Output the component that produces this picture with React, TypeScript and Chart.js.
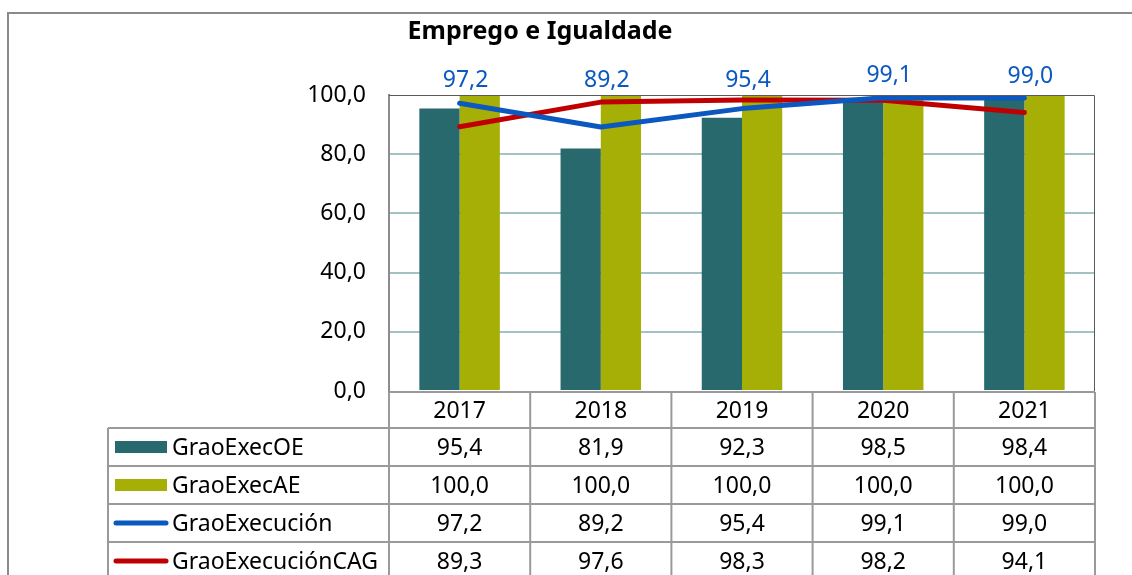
import { useEffect, useRef } from 'react';
import { Chart, registerables } from 'chart.js';

Chart.register(...registerables);

const chartTitle = 'Emprego e Igualdade';
const categories = ['2017', '2018', '2019', '2020', '2021'];
const seriesNames = ['GraoExecOE', 'GraoExecAE', 'GraoExecución', 'GraoExecuciónCAG'];
const graoExecOE = [95.4, 81.9, 92.3, 98.5, 98.4];
const graoExecAE = [100.0, 100.0, 100.0, 100.0, 100.0];
const graoExecucion = [97.2, 89.2, 95.4, 99.1, 99.0];
const graoExecucionCAG = [89.3, 97.6, 98.3, 98.2, 94.1];
const yMin = 0;
const yMax = 100;
const yStep = 20;

const TEAL = '#28696d';
const OLIVE = '#a5af05';
const BLUE = '#0a58c0';
const RED = '#c00000';
const FONT = '"Noto Sans", "Open Sans", sans-serif';
const FS = 23;

const fmt = (v: number) => v.toFixed(1).replace('.', ',');

const seriesValues = [graoExecOE, graoExecAE, graoExecucion, graoExecucionCAG];
const seriesColors = [TEAL, OLIVE, BLUE, RED];
const seriesKinds = ['bar', 'bar', 'line', 'line'];

const framePlugin = {
  id: 'frame',
  beforeDraw(chart: any) {
    const ctx = chart.ctx;
    ctx.save();
    ctx.fillStyle = '#ffffff';
    ctx.fillRect(0, 0, chart.width, chart.height);
    ctx.strokeStyle = '#8a8a8a';
    ctx.lineWidth = 2;
    ctx.beginPath();
    ctx.moveTo(8, chart.height);
    ctx.lineTo(8, 13);
    ctx.lineTo(chart.width, 13);
    ctx.stroke();
    // title
    ctx.fillStyle = '#000';
    ctx.font = `bold 25px ${FONT}`;
    ctx.textAlign = 'center';
    ctx.textBaseline = 'middle';
    ctx.fillText(chartTitle, 540, 32);
    ctx.restore();
  },
  afterDatasetsDraw(chart: any) {
    const ctx = chart.ctx;
    const area = chart.chartArea;
    const xs = chart.scales.x;
    ctx.save();
    // top & right plot border
    ctx.strokeStyle = '#5a5a5a';
    ctx.lineWidth = 1;
    ctx.beginPath();
    ctx.moveTo(area.left, area.top + 0.5);
    ctx.lineTo(area.right - 0.5, area.top + 0.5);
    ctx.lineTo(area.right - 0.5, area.bottom);
    ctx.stroke();

    // data labels for GraoExecución, placed above the plot area
    const meta = chart.getDatasetMeta(2);
    ctx.fillStyle = BLUE;
    ctx.font = `${FS}px ${FONT}`;
    ctx.textAlign = 'center';
    ctx.textBaseline = 'middle';
    meta.data.forEach((pt: any, i: number) => {
      const y = Math.min(pt.y - 22, area.top - 15);
      ctx.fillText(fmt(graoExecucion[i]), pt.x + 6, y);
    });

    // data table
    const step = xs.getPixelForValue(1) - xs.getPixelForValue(0);
    const headTop = area.bottom + 1;
    const headH = 36;
    const rowH = 38;
    const tableLeft = 108;
    const bottom = chart.height + 2;
    ctx.strokeStyle = '#9a9a9a';
    ctx.lineWidth = 2;
    ctx.beginPath();
    ctx.moveTo(area.left, headTop);
    ctx.lineTo(area.right, headTop);
    for (let r = 0; r < seriesNames.length; r++) {
      const y = headTop + headH + r * rowH;
      ctx.moveTo(tableLeft, y);
      ctx.lineTo(area.right, y);
    }
    ctx.moveTo(tableLeft, headTop + headH);
    ctx.lineTo(tableLeft, bottom);
    for (let i = 0; i <= categories.length; i++) {
      const x = xs.getPixelForValue(0) - step / 2 + i * step;
      ctx.moveTo(x, headTop);
      ctx.lineTo(x, bottom);
    }
    ctx.stroke();

    ctx.fillStyle = '#000';
    ctx.font = `${FS}px ${FONT}`;
    ctx.textBaseline = 'middle';
    ctx.textAlign = 'center';
    categories.forEach((c, i) => {
      ctx.fillText(c, xs.getPixelForValue(i), headTop + headH / 2 + 1);
    });
    seriesNames.forEach((name, r) => {
      const cy = headTop + headH + r * rowH + rowH / 2;
      ctx.textAlign = 'center';
      ctx.fillStyle = '#000';
      seriesValues[r].forEach((v, i) => {
        ctx.fillText(fmt(v), xs.getPixelForValue(i), cy + 1);
      });
      if (seriesKinds[r] === 'bar') {
        ctx.fillStyle = seriesColors[r];
        ctx.fillRect(115, cy - 6, 52, 12);
      } else {
        ctx.strokeStyle = seriesColors[r];
        ctx.lineWidth = 5;
        ctx.lineCap = 'round';
        ctx.beginPath();
        ctx.moveTo(116, cy);
        ctx.lineTo(166, cy);
        ctx.stroke();
      }
      ctx.fillStyle = '#000';
      ctx.textAlign = 'left';
      ctx.fillText(name, 172, cy + 1);
    });
    ctx.restore();
  },
};

export default function App() {
  const ref = useRef<HTMLCanvasElement>(null);
  useEffect(() => {
    document.body.style.margin = '0';
    document.body.style.overflow = 'hidden';
    const chart = new Chart(ref.current as HTMLCanvasElement, {
      type: 'bar',
      data: {
        labels: categories,
        datasets: [
          {
            type: 'bar',
            label: seriesNames[0],
            data: graoExecOE,
            backgroundColor: TEAL,
            borderWidth: 0,
            categoryPercentage: 0.57,
            barPercentage: 1,
            order: 2,
          },
          {
            type: 'bar',
            label: seriesNames[1],
            data: graoExecAE,
            backgroundColor: OLIVE,
            borderWidth: 0,
            categoryPercentage: 0.57,
            barPercentage: 1,
            order: 2,
          },
          {
            type: 'line',
            label: seriesNames[2],
            data: graoExecucion,
            borderColor: BLUE,
            backgroundColor: BLUE,
            borderWidth: 5,
            pointRadius: 0,
            tension: 0,
            borderCapStyle: 'round',
            borderJoinStyle: 'round',
            order: 0,
          },
          {
            type: 'line',
            label: seriesNames[3],
            data: graoExecucionCAG,
            borderColor: RED,
            backgroundColor: RED,
            borderWidth: 5,
            pointRadius: 0,
            tension: 0,
            borderCapStyle: 'round',
            borderJoinStyle: 'round',
            order: 1,
          },
        ],
      } as any,
      options: {
        responsive: false,
        animation: false,
        layout: { padding: { left: 0, right: 37, top: 95, bottom: 184 } },
        plugins: {
          legend: { display: false },
          title: { display: false },
          tooltip: { enabled: false },
        },
        scales: {
          x: { display: false, offset: true },
          y: {
            min: yMin,
            max: yMax,
            afterFit: (s: any) => {
              s.width = 389;
            },
            ticks: {
              stepSize: yStep,
              padding: 23,
              color: '#000',
              font: { family: FONT, size: FS },
              callback: (v: any) => fmt(Number(v)),
            },
            grid: {
              drawTicks: false,
              lineWidth: 2,
              color: (c: any) =>
                c.tick && (c.tick.value === yMin || c.tick.value === yMax) ? 'rgba(0,0,0,0)' : '#a3c2c4',
            },
            border: { display: true, color: '#8c8c8c', width: 2 },
          },
        },
      } as any,
      plugins: [framePlugin],
    });
    return () => chart.destroy();
  }, []);
  return (
    <div style={{ width: 1132, height: 575 }}>
      <canvas ref={ref} width={1132} height={575} style={{ display: 'block' }} />
    </div>
  );
}
